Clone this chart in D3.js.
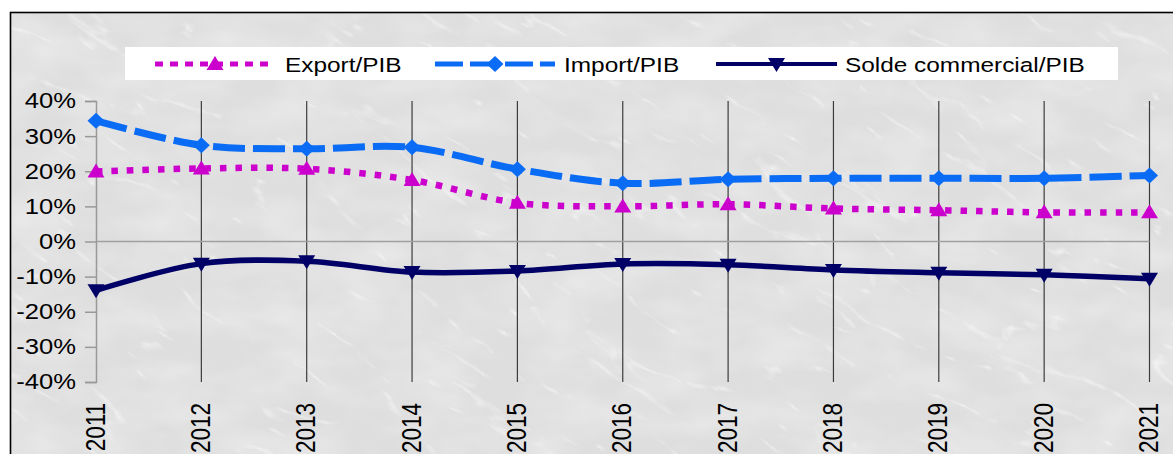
<!DOCTYPE html>
<html>
<head>
<meta charset="utf-8">
<script src="https://cdn.jsdelivr.net/npm/d3@7"></script>
<style>
  html, body { margin: 0; padding: 0; background: #fff; }
  svg { display: block; font-family: "Liberation Sans", Arial, sans-serif; }
</style>
</head>
<body>
<div id="chart"></div>
<script>
// data (% of PIB)
var years = ["2011", "2012", "2013", "2014", "2015", "2016", "2017", "2018", "2019", "2020", "2021"];
var exportPib = [19.9, 20.8, 20.7, 17.5, 11.0, 10.0, 10.6, 9.4, 8.9, 8.3, 8.3];
var importPib = [34.4, 27.4, 26.4, 26.8, 20.6, 16.6, 17.7, 18.0, 18.0, 18.0, 18.8];
var soldePib = [-13.9, -6.3, -5.6, -8.7, -8.4, -6.4, -6.6, -8.1, -8.9, -9.5, -10.6];
var yTicks = [-40, -30, -20, -10, 0, 10, 20, 30, 40];
var seriesNames = ["Export/PIB", "Import/PIB", "Solde commercial/PIB"];

var width = 1173, height = 454;
var sx = 1.19; // picture is stretched horizontally

var svg = d3.select("#chart").append("svg")
    .attr("width", width)
    .attr("height", height);

var defs = svg.append("defs");
var marble = defs.append("filter").attr("id", "marble")
    .attr("filterUnits", "userSpaceOnUse")
    .attr("x", -400).attr("y", -600).attr("width", 2200).attr("height", 1600);
marble.append("feTurbulence")
    .attr("type", "turbulence")
    .attr("baseFrequency", "0.007 0.022")
    .attr("numOctaves", 4)
    .attr("seed", 11);
marble.append("feColorMatrix")
    .attr("type", "matrix")
    .attr("values", "0 0 0 0 1  0 0 0 0 1  0 0 0 0 1  -7 0 0 0 0.9");

var mottle = defs.append("filter").attr("id", "mottle")
    .attr("filterUnits", "userSpaceOnUse")
    .attr("x", 0).attr("y", 0).attr("width", width).attr("height", height);
mottle.append("feTurbulence")
    .attr("type", "fractalNoise")
    .attr("baseFrequency", "0.015 0.03")
    .attr("numOctaves", 3)
    .attr("seed", 3);
mottle.append("feColorMatrix")
    .attr("type", "matrix")
    .attr("values", "0 0 0 0 1  0 0 0 0 1  0 0 0 0 1  0.9 0 0 0 -0.3");

defs.append("clipPath").attr("id", "frameClip")
  .append("rect").attr("x", 10).attr("y", 12).attr("width", 1200).attr("height", 500);

// background
var bg = svg.append("g").attr("clip-path", "url(#frameClip)");
bg.append("rect").attr("x", 10).attr("y", 12).attr("width", 1200).attr("height", 500)
    .attr("fill", "#dedede");
bg.append("rect").attr("x", 10).attr("y", 12).attr("width", 1200).attr("height", 500)
    .attr("filter", "url(#mottle)").attr("opacity", 0.6);
bg.append("g").attr("transform", "rotate(32, 590, 230)")
  .append("rect").attr("x", -300).attr("y", -500).attr("width", 1900).attr("height", 1400)
    .attr("filter", "url(#marble)").attr("opacity", 0.55);

svg.append("rect").attr("x", 10.5).attr("y", 12.5).attr("width", 1200).attr("height", 500)
    .attr("fill", "none").attr("stroke", "#000").attr("stroke-width", 1.6);

var x = d3.scalePoint().domain(years).range([96, 1149.5]);
var y = d3.scaleLinear().domain([-40, 40]).range([382, 101]);

// vertical grid lines
svg.append("g").selectAll("line")
    .data(years.slice(1))
    .enter().append("line")
    .attr("x1", function(d) { return x(d); })
    .attr("x2", function(d) { return x(d); })
    .attr("y1", y(40)).attr("y2", y(-40))
    .attr("stroke", "#3c3c3c").attr("stroke-width", 1.2);

// zero line (category axis)
svg.append("line")
    .attr("x1", x(years[0])).attr("x2", x(years[years.length - 1]))
    .attr("y1", y(0)).attr("y2", y(0))
    .attr("stroke", "#a0a0a0").attr("stroke-width", 1.5);

// y axis
var yAxis = d3.axisLeft(y).tickValues(yTicks).tickSize(11).tickPadding(9)
    .tickFormat(function(d) { return d + "%"; });
var gy = svg.append("g").attr("transform", "translate(" + x(years[0]) + ",0)").call(yAxis);
gy.select(".domain").attr("stroke", "#999").attr("stroke-width", 1.5);
gy.selectAll(".tick line").attr("stroke", "#999").attr("stroke-width", 1.5);
gy.selectAll(".tick text")
    .attr("fill", "#000").attr("font-size", 21.5)
    .attr("font-family", "Liberation Sans, Arial, sans-serif")
    .each(function() {
      var t = d3.select(this);
      var tx = +t.attr("x");
      t.attr("x", tx / sx).attr("transform", "scale(" + sx + ",1)");
    });

// x labels (rotated)
svg.append("g").selectAll("text")
    .data(years)
    .enter().append("text")
    .attr("transform", function(d) {
      return "translate(" + (x(d) + 8.5) + ",403) scale(" + sx + ",1) rotate(-90)";
    })
    .attr("text-anchor", "end")
    .attr("font-size", 22.5)
    .attr("fill", "#000")
    .text(function(d) { return d; });

var line = d3.line().curve(d3.curveCatmullRom.alpha(0.5));

var series = [
  { name: seriesNames[0], values: exportPib, color: "#cc00cc", dash: "6.5 9", width: 6.5, marker: "up" },
  { name: seriesNames[1], values: importPib, color: "#0a6cf5", dash: "32 8", width: 7, marker: "diamond" },
  { name: seriesNames[2], values: soldePib, color: "#000066", dash: null, width: 5.5, marker: "down" }
];

function markerPath(type) {
  if (type === "up") return "M0,-8L8.5,6L-8.5,6Z";
  if (type === "down") return "M0,8L8.5,-6L-8.5,-6Z";
  return "M0,-8L8.5,0L0,8L-8.5,0Z";
}

series.forEach(function(s) {
  var pts = s.values.map(function(v, i) { return [x(years[i]), y(v)]; });
  svg.append("path")
      .attr("d", line(pts))
      .attr("fill", "none")
      .attr("stroke", s.color)
      .attr("stroke-width", s.width)
      .attr("stroke-dasharray", s.dash);
  svg.append("g").selectAll("path")
      .data(pts)
      .enter().append("path")
      .attr("transform", function(p) { return "translate(" + p[0] + "," + p[1] + ")"; })
      .attr("d", markerPath(s.marker))
      .attr("fill", s.color);
});

// legend
var lg = svg.append("g");
lg.append("rect").attr("x", 125).attr("y", 47).attr("width", 993).attr("height", 33).attr("fill", "#fff");
var legendPos = [
  { x1: 155, x2: 275, tx: 285 },
  { x1: 435, x2: 555, tx: 564 },
  { x1: 716, x2: 837, tx: 845 }
];
series.forEach(function(s, i) {
  var p = legendPos[i];
  var ly = 64;
  lg.append("line")
      .attr("x1", p.x1).attr("x2", p.x2).attr("y1", ly).attr("y2", ly)
      .attr("stroke", s.color)
      .attr("stroke-width", s.marker === "down" ? 4 : 5)
      .attr("stroke-dasharray", s.marker === "up" ? "8 7" : (s.marker === "diamond" ? "28 7" : null));
  lg.append("path")
      .attr("transform", "translate(" + ((p.x1 + p.x2) / 2) + "," + ly + ")")
      .attr("d", markerPath(s.marker))
      .attr("fill", s.color);
  lg.append("text")
      .attr("transform", "translate(" + p.tx + "," + (ly + 7.5) + ") scale(" + sx + ",1)")
      .attr("font-size", 20.5)
      .attr("fill", "#000")
      .text(s.name);
});
</script>
</body>
</html>
